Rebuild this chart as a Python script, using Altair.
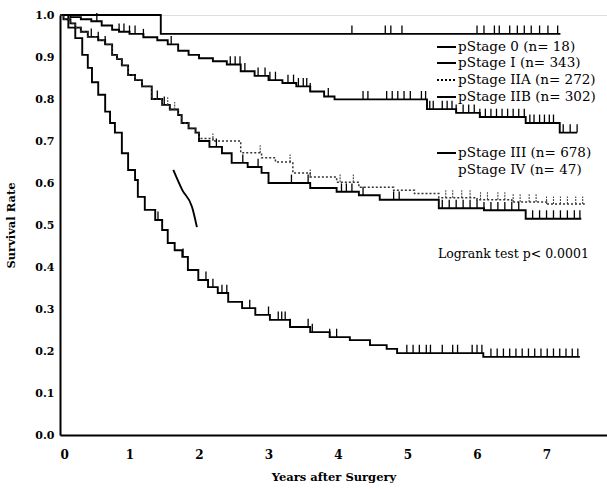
import altair as alt
import pandas as pd

# ---------------- data (years after surgery, survival rate) ----------------
s0_t = [0.0, 1.45, 7.2]
s0_s = [1.0, 0.955, 0.955]
s0_c = [4.2, 4.68, 4.76, 4.92, 6.0, 6.1, 6.25, 6.32, 6.47, 6.58, 6.68, 6.78, 6.9, 7.02, 7.16]

s1_t = [0.0, 0.15, 0.3, 0.45, 0.6, 0.75, 0.85, 1.0, 1.2, 1.4, 1.55, 1.7, 1.85, 2.0, 2.2, 2.4,
        2.6, 2.8, 3.0, 3.2, 3.4, 3.6, 3.8, 3.95, 5.28, 5.7, 6.04, 6.7, 7.19, 7.44]
s1_s = [1.0, 0.995, 0.99, 0.985, 0.975, 0.965, 0.96, 0.955, 0.947, 0.94, 0.93, 0.915, 0.905, 0.897,
        0.89, 0.882, 0.866, 0.855, 0.845, 0.838, 0.83, 0.818, 0.806, 0.799, 0.776, 0.767, 0.757,
        0.743, 0.72, 0.72]
s1_c = [0.53, 0.85, 0.92, 1.0, 1.08, 1.2, 1.6, 2.45, 2.52, 2.59, 2.66, 2.85, 2.95, 3.02, 3.1, 3.28,
        3.36, 3.43, 3.5, 3.55, 3.6, 3.86, 4.36, 4.43, 4.7, 4.78, 4.86, 4.95, 5.04, 5.2, 5.26, 5.32,
        5.37, 5.5, 5.57, 5.64, 5.7, 5.8, 5.88, 5.96, 6.04, 6.12, 6.2, 6.28, 6.36, 6.44, 6.52, 6.6,
        6.68, 6.76, 6.82, 6.9, 6.97, 7.04, 7.1, 7.24, 7.34, 7.44]

# early part shared by stage IIA and IIB
early_t = [0.0, 0.05, 0.15, 0.22, 0.3, 0.4, 0.55, 0.65, 0.75, 0.82, 0.89, 0.98, 1.08, 1.18, 1.32,
           1.47, 1.58, 1.7, 1.75, 1.85, 1.95]
early_s = [1.0, 0.99, 0.98, 0.97, 0.96, 0.948, 0.94, 0.93, 0.905, 0.895, 0.88, 0.857, 0.845, 0.83,
           0.8, 0.786, 0.775, 0.762, 0.743, 0.73, 0.72]

s2a_t = early_t + [2.0, 2.2, 2.6, 2.9, 3.1, 3.35, 3.6, 3.98, 4.3, 4.8, 5.1, 5.45, 6.0, 6.5, 7.0, 7.55]
s2a_s = early_s + [0.706, 0.70, 0.672, 0.66, 0.65, 0.624, 0.614, 0.602, 0.59, 0.583, 0.575, 0.565,
                   0.56, 0.555, 0.55, 0.55]
s2a_c = [1.55, 1.65, 2.2, 2.88, 3.31, 3.6, 4.03, 4.22, 5.55, 5.65, 5.78, 5.9, 6.05, 6.15, 6.3, 6.4,
         6.52, 6.62, 6.75, 6.85, 7.0, 7.1, 7.2, 7.3, 7.42, 7.52]

s2b_t = early_t + [2.0, 2.15, 2.33, 2.47, 2.7, 2.9, 3.0, 3.6, 3.98, 4.3, 4.6, 5.45, 6.1, 6.7, 7.5]
s2b_s = early_s + [0.70, 0.686, 0.671, 0.648, 0.638, 0.624, 0.60, 0.588, 0.579, 0.571, 0.56, 0.54,
                   0.535, 0.515, 0.515]
s2b_c = [0.45, 0.55, 0.65, 1.4, 1.5, 2.25, 2.63, 2.85, 3.33, 3.57, 4.05, 4.12, 4.2, 4.36, 4.8, 4.88,
         5.5, 5.6, 5.7, 5.8, 5.9, 6.0, 6.1, 6.2, 6.3, 6.4, 6.5, 6.6, 6.8, 6.9, 7.0, 7.1, 7.2, 7.3,
         7.4, 7.48]

s3_t = [0.0, 0.12, 0.22, 0.32, 0.4, 0.46, 0.55, 0.65, 0.72, 0.79, 0.89, 0.98, 1.08, 1.12, 1.22,
        1.37, 1.47, 1.55, 1.65, 1.76, 1.84, 1.99, 2.13, 2.27, 2.42, 2.62, 2.81, 3.02, 3.31, 3.6,
        3.88, 4.17, 4.46, 4.7, 4.85, 6.09, 7.48]
s3_s = [1.0, 0.97, 0.945, 0.905, 0.874, 0.84, 0.81, 0.77, 0.743, 0.72, 0.671, 0.631, 0.607, 0.567,
        0.536, 0.512, 0.488, 0.457, 0.44, 0.424, 0.393, 0.369, 0.352, 0.338, 0.317, 0.302, 0.286,
        0.274, 0.257, 0.245, 0.233, 0.226, 0.214, 0.205, 0.195, 0.186, 0.186]
s3_c = [1.41, 1.77, 2.1, 2.2, 2.33, 2.4, 2.73, 3.0, 3.14, 3.19, 3.24, 3.31, 3.57, 3.63, 3.88, 3.98,
        4.99, 5.08, 5.17, 5.27, 5.33, 5.5, 5.65, 5.72, 5.93, 6.0, 6.07, 6.2, 6.29, 6.38, 6.47, 6.56,
        6.65, 6.74, 6.83, 6.92, 7.01, 7.1, 7.19, 7.28, 7.37, 7.45]

s4_t = [1.63, 1.76, 1.9, 1.97]
s4_s = [0.631, 0.583, 0.543, 0.495]

legend_labels = ["pStage 0 (n=  18)", "pStage I (n=  343)", "pStage IIA (n=  272)",
                 "pStage IIB (n=  302)", "pStage III (n=  678)", "pStage IV (n=  47)"]
x_ticks = [0, 1, 2, 3, 4, 5, 6, 7]
y_ticks = [0.0, 0.1, 0.2, 0.3, 0.4, 0.5, 0.6, 0.7, 0.8, 0.9, 1.0]


def step_at(ts, ss, t):
    val = ss[0]
    for ti, si in zip(ts, ss):
        if ti <= t:
            val = si
    return val


solid_curves = {"0": (s0_t, s0_s), "I": (s1_t, s1_s), "IIB": (s2b_t, s2b_s), "III": (s3_t, s3_s)}
censors = {"0": s0_c, "I": s1_c, "IIB": s2b_c, "III": s3_c}

rows = []
for k, (ts, ss) in solid_curves.items():
    for t, s in zip(ts, ss):
        rows.append({"stage": k, "t": t, "s": s})
solid_df = pd.DataFrame(rows)
dotted_df = pd.DataFrame({"stage": "IIA", "t": s2a_t, "s": s2a_s})
iv_df = pd.DataFrame({"t": s4_t, "s": s4_s})

crow = []
for k, cs in censors.items():
    ts, ss = solid_curves[k]
    for c in cs:
        v = step_at(ts, ss, c)
        crow.append({"stage": k, "t": c, "s": v, "s2": v + 0.02})
cens_df = pd.DataFrame(crow)
cens_a_df = pd.DataFrame([{"t": c, "s": step_at(s2a_t, s2a_s, c),
                           "s2": step_at(s2a_t, s2a_s, c) + 0.018} for c in s2a_c])

FONT = "DejaVu Serif"
xs = alt.Scale(domain=[0, 7.87], nice=False, zero=False)
ys = alt.Scale(domain=[0, 1.0], nice=False)

X = alt.X("t:Q", scale=xs, axis=alt.Axis(
    values=x_ticks, format="d", ticks=False, grid=False, domainColor="black", domainWidth=2,
    labelFont=FONT, labelFontSize=12, labelFontWeight="bold", labelColor="black", labelPadding=14,
    title="Years after Surgery", titleFont=FONT, titleFontSize=11.5, titleFontWeight="bold",
    titleColor="black", titlePadding=11))
Y = alt.Y("s:Q", scale=ys, axis=alt.Axis(
    values=y_ticks, format=".1f", ticks=False, grid=False, domainColor="black", domainWidth=2,
    labelFont=FONT, labelFontSize=11, labelFontWeight="bold", labelColor="black", labelPadding=6,
    title="Survival Rate", titleFont=FONT, titleFontSize=11.5, titleFontWeight="bold",
    titleColor="black", titlePadding=18))

solid = alt.Chart(solid_df).mark_line(interpolate="step-after", color="black", strokeWidth=1.9).encode(
    x=X, y=Y, detail="stage:N")
dotted = alt.Chart(dotted_df).mark_line(interpolate="step-after", color="#333333", strokeWidth=1.5,
                                        strokeDash=[2, 2]).encode(x="t:Q", y="s:Q")
iv = alt.Chart(iv_df).mark_line(interpolate="monotone", color="black", strokeWidth=1.9).encode(
    x="t:Q", y="s:Q")
ticks = alt.Chart(cens_df).mark_rule(color="black", strokeWidth=1.3).encode(
    x="t:Q", y="s:Q", y2="s2:Q")
ticks_a = alt.Chart(cens_a_df).mark_rule(color="#444444", strokeWidth=1.1, strokeDash=[2, 1]).encode(
    x="t:Q", y="s:Q", y2="s2:Q")

# legend (drawn as text and short lines at fixed positions)
legend_rows_y = [47, 63, 80, 97, 153, 170]
legend_layers = []
for i, (lab, yy) in enumerate(zip(legend_labels, legend_rows_y)):
    legend_layers.append(alt.Chart(pd.DataFrame({"lab": [lab]})).mark_text(
        align="left", baseline="middle", font=FONT, fontSize=13.5, color="black").encode(
        text="lab:N", x=alt.value(398), y=alt.value(yy - 15)))
    if i == 5:
        continue
    dash = [2, 2] if i == 2 else [1, 0]
    legend_layers.append(alt.Chart(pd.DataFrame({"lab": [lab]})).mark_rule(
        color="black", strokeWidth=1.8, strokeDash=dash).encode(
        x=alt.value(377), x2=alt.value(396), y=alt.value(yy - 15)))

logrank = alt.Chart(pd.DataFrame({"lab": ["Logrank test p<  0.0001"]})).mark_text(
    align="left", baseline="middle", font=FONT, fontSize=12.5, color="black").encode(
    text="lab:N", x=alt.value(378), y=alt.value(239))

chart = alt.layer(solid, dotted, iv, ticks, ticks_a, *legend_layers, logrank).properties(
    width=547, height=420,
    autosize=alt.AutoSizeParams(type="none"),
    padding={"left": 60, "top": 15, "right": 0, "bottom": 54},
).configure_view(stroke=None).configure(background="white")

chart.save("out.html", embed_options={"renderer": "svg", "actions": False})
